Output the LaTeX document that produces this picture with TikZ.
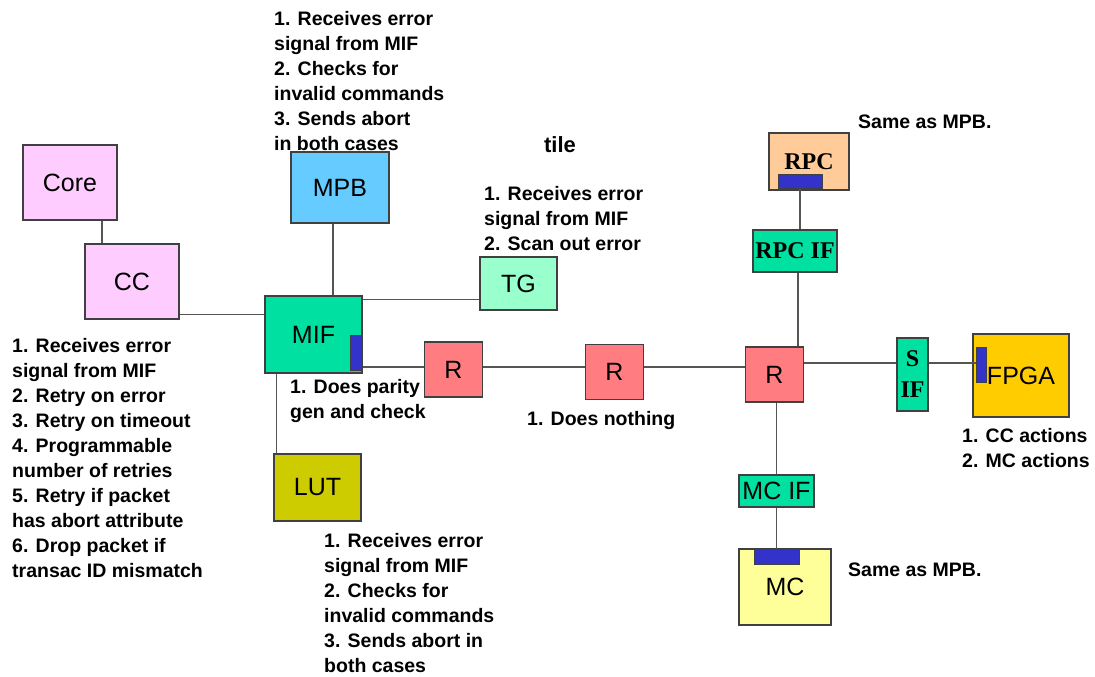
\documentclass[tikz,border=0pt]{standalone}
\usepackage{fontspec}
\setmainfont{Liberation Sans}
\newfontfamily\serifbox{Liberation Serif}

\definecolor{pinkbox}{HTML}{FFCCFF}
\definecolor{skyblue}{HTML}{66CCFF}
\definecolor{seagreen}{HTML}{00E0A0}
\definecolor{mint}{HTML}{99FFCC}
\definecolor{salmon}{HTML}{FF7C80}
\definecolor{olive}{HTML}{CCCC00}
\definecolor{peach}{HTML}{FFCC99}
\definecolor{gold}{HTML}{FFCC00}
\definecolor{paleyellow}{HTML}{FFFF99}
\definecolor{tabblue}{HTML}{3333CC}
\definecolor{boxgray}{HTML}{404040}
\definecolor{wiregray}{HTML}{555555}

\tikzset{
  unit/.style={draw=boxgray, line width=1.3pt, inner sep=0pt,
    font=\fontsize{25}{30}\selectfont},
  ifunit/.style={unit, fill=seagreen, font=\serifbox\bfseries\fontsize{24}{31}\selectfont},
  tab/.style={draw=boxgray, line width=1pt, fill=tabblue, inner sep=0pt},
  note/.style={anchor=north west, inner sep=0pt, align=left,
    font=\fontsize{19.5}{25}\selectfont\bfseries},
  wire/.style={draw=wiregray, line width=1.3pt},
}

\begin{document}
\begin{tikzpicture}[x=1pt,y=-1pt]
\fill[white] (0,0) rectangle (1095,677);
\useasboundingbox (0,0) rectangle (1095,677);

% notes
\node[note] (mpbnote) at (274,11) {1. Receives error\\signal from MIF\\2. Checks for\\invalid commands\\3. Sends abort\\in both cases};
\node[note] (tgnote) at (484,186) {1. Receives error\\signal from MIF\\2. Scan out error};
\node[note] (ccnote) at (12,338) {1. Receives error\\signal from MIF\\2. Retry on error\\3. Retry on timeout\\4. Programmable\\number of retries\\5. Retry if packet\\has abort attribute\\6. Drop packet if\\transac ID mismatch};
\node[note] (mifnote) at (290,379) {1. Does parity\\gen and check};
\node[note] (rnote) at (527,411) {1. Does nothing};
\node[note] (lutnote) at (324,533) {1. Receives error\\signal from MIF\\2. Checks for\\invalid commands\\3. Sends abort in\\both cases};
\node[note] (fpganote) at (962,428) {1. CC actions\\2. MC actions};
\node[note] (rpcnote) at (858,115) {Same as MPB.};
\node[note] (mcnote) at (848,563) {Same as MPB.};
\node[font=\fontsize{22}{26}\selectfont\bfseries] (tile) at (560,145) {tile};

% blocks
\node[unit, fill=pinkbox, minimum width=94, minimum height=75] (core) at (70,182.5) {Core};
\node[unit, fill=pinkbox, minimum width=94, minimum height=75] (cc) at (132,281.5) {CC};
\node[unit, fill=skyblue, minimum width=98, minimum height=71] (mpb) at (340,187.5) {MPB};
\node[unit, fill=seagreen, minimum width=97, minimum height=77] (mif) at (313.5,334.5) {MIF};
\node[unit, fill=mint, minimum width=77, minimum height=53] (tg) at (518.5,283.5) {TG};
\node[unit, fill=olive, minimum width=87, minimum height=67] (lut) at (317.5,487.5) {LUT};
\foreach \name/\x/\y in {r1/453.5/369.5, r2/614.5/372, r3/774.5/374.5}
\node[unit, fill=salmon, minimum width=58, minimum height=55] (\name) at (\x,\y) {R};
\node[unit, fill=peach, minimum width=80, minimum height=57,
  font=\serifbox\bfseries\fontsize{24}{30}\selectfont] (rpc) at (809,161.5) {RPC};
\node[ifunit, minimum width=84, minimum height=42] (rpcif) at (795,251) {RPC IF};
\node[ifunit, minimum width=31, minimum height=73, align=center] (sif) at (912.5,374.5) {S\\IF};
\node[unit, fill=gold, minimum width=96, minimum height=83] (fpga) at (1021,375.5) {FPGA};
\node[unit, fill=seagreen, minimum width=75, minimum height=32] (mcif) at (776.5,491) {MC IF};
\node[unit, fill=paleyellow, minimum width=92, minimum height=76] (mc) at (785,587) {MC};

% port tabs
\node[tab, minimum width=12, minimum height=35] (miftab) at (356,352.5) {};
\node[tab, minimum width=44, minimum height=14] (rpctab) at (800,181) {};
\node[tab, minimum width=10, minimum height=35] (fpgatab) at (981,364.5) {};
\node[tab, minimum width=45, minimum height=15] (mctab) at (776.5,556.5) {};

% links
\coordinate (ring) at (0,367);
\coordinate (sline) at (0,363);
\draw[wire] ([xshift=32pt]core.south) -- ([xshift=32pt]core.south |- cc.north);
\draw[wire] ([yshift=5pt]cc.south east) -- ([yshift=5pt]cc.south east -| mif.west);
\draw[wire] ([xshift=-7pt]mpb.south) -- ([xshift=-7pt]mpb.south |- mif.north);
\draw[wire] ([yshift=-4pt]mif.north east) -- ([yshift=-4pt]mif.north east -| tg.west);
\draw[wire] ([xshift=12pt]mif.south west) -- ([xshift=12pt]mif.south west |- lut.north);
\draw[wire] (miftab.east |- ring) -- (r1.west |- ring);
\draw[wire] (r1.east |- ring) -- (r2.west |- ring);
\draw[wire] (r2.east |- ring) -- (r3.west |- ring);
\draw[wire] (r3.east |- sline) -- (sif.west |- sline);
\draw[wire] (sif.east |- sline) -- (fpgatab.west |- sline);
\draw[wire] (rpctab.south) -- (rpctab.south |- rpcif.north);
\draw[wire] ([xshift=3pt]rpcif.south) -- ([xshift=3pt]rpcif.south |- r3.north);
\draw[wire] (mcif.north |- r3.south) -- (mcif.north);
\draw[wire] (mcif.south) -- (mctab.north);
\end{tikzpicture}
\end{document}
